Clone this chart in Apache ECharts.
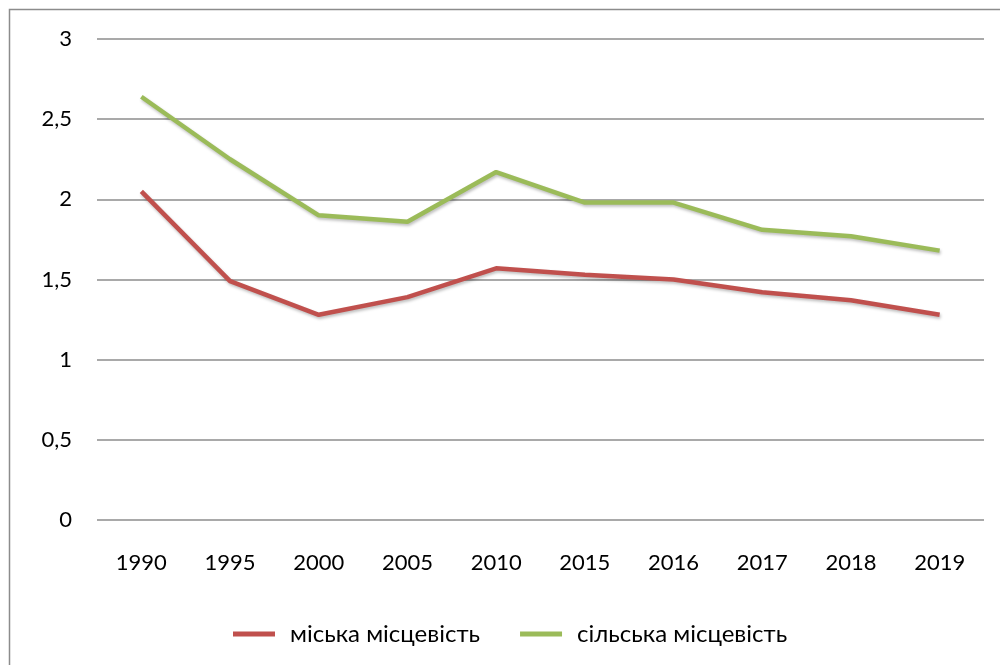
<!DOCTYPE html>
<html>
<head>
<meta charset="utf-8">
<script src="https://cdn.jsdelivr.net/npm/echarts@6/dist/echarts.min.js"></script>
<style>
  html, body { margin: 0; padding: 0; background: #fff; }
  #chart { width: 1000px; height: 665px; }
</style>
</head>
<body>
<div id="chart"></div>
<script>
var years = ['1990', '1995', '2000', '2005', '2010', '2015', '2016', '2017', '2018', '2019'];
var urban = [2.05, 1.49, 1.28, 1.39, 1.57, 1.53, 1.50, 1.42, 1.37, 1.28];
var rural = [2.64, 2.25, 1.90, 1.86, 2.17, 1.98, 1.98, 1.81, 1.77, 1.68];
var urbanName = 'міська місцевість';
var ruralName = 'сільська місцевість';

var font = 'Lato, "Open Sans", sans-serif';

var chart = echarts.init(document.getElementById('chart'), null, { renderer: 'canvas' });

function lineSeries(name, data, color) {
  return {
    name: name,
    type: 'line',
    data: data,
    symbol: 'none',
    lineStyle: {
      color: color,
      width: 4.5,
      shadowColor: 'rgba(0,0,0,0.25)',
      shadowBlur: 3,
      shadowOffsetX: 1,
      shadowOffsetY: 2
    },
    itemStyle: { color: color },
    animation: false
  };
}

var option = {
  backgroundColor: '#fff',
  animation: false,
  graphic: [{
    type: 'rect',
    shape: { x: 9.5, y: 9.5, width: 1100, height: 1000 },
    style: { fill: 'none', stroke: '#8c8c8c', lineWidth: 1.5 },
    silent: true
  }],
  grid: { left: 97, right: 16, top: 39, bottom: 145 },
  legend: {
    top: 617,
    left: 228,
    itemGap: 40,
    itemWidth: 42,
    itemHeight: 5,
    icon: 'rect',
    textStyle: { fontFamily: font, fontSize: 24, color: '#000', padding: [0, 0, 0, 10] },
    data: [urbanName, ruralName]
  },
  xAxis: {
    type: 'category',
    data: years,
    boundaryGap: true,
    axisLine: { show: false },
    axisTick: { show: false },
    axisLabel: { fontFamily: font, fontSize: 22, color: '#000', margin: 32 }
  },
  yAxis: {
    type: 'value',
    min: 0,
    max: 3,
    interval: 0.5,
    axisLine: { show: false },
    axisTick: { show: false },
    splitLine: { lineStyle: { color: '#8c8c8c', width: 1.5 } },
    axisLabel: {
      fontFamily: font, fontSize: 22, color: '#000', margin: 25,
      formatter: function (v) { return String(v).replace('.', ','); }
    }
  },
  series: [
    lineSeries(urbanName, urban, '#C0504D'),
    lineSeries(ruralName, rural, '#9BBB59')
  ]
};

chart.setOption(option);
</script>
</body>
</html>
